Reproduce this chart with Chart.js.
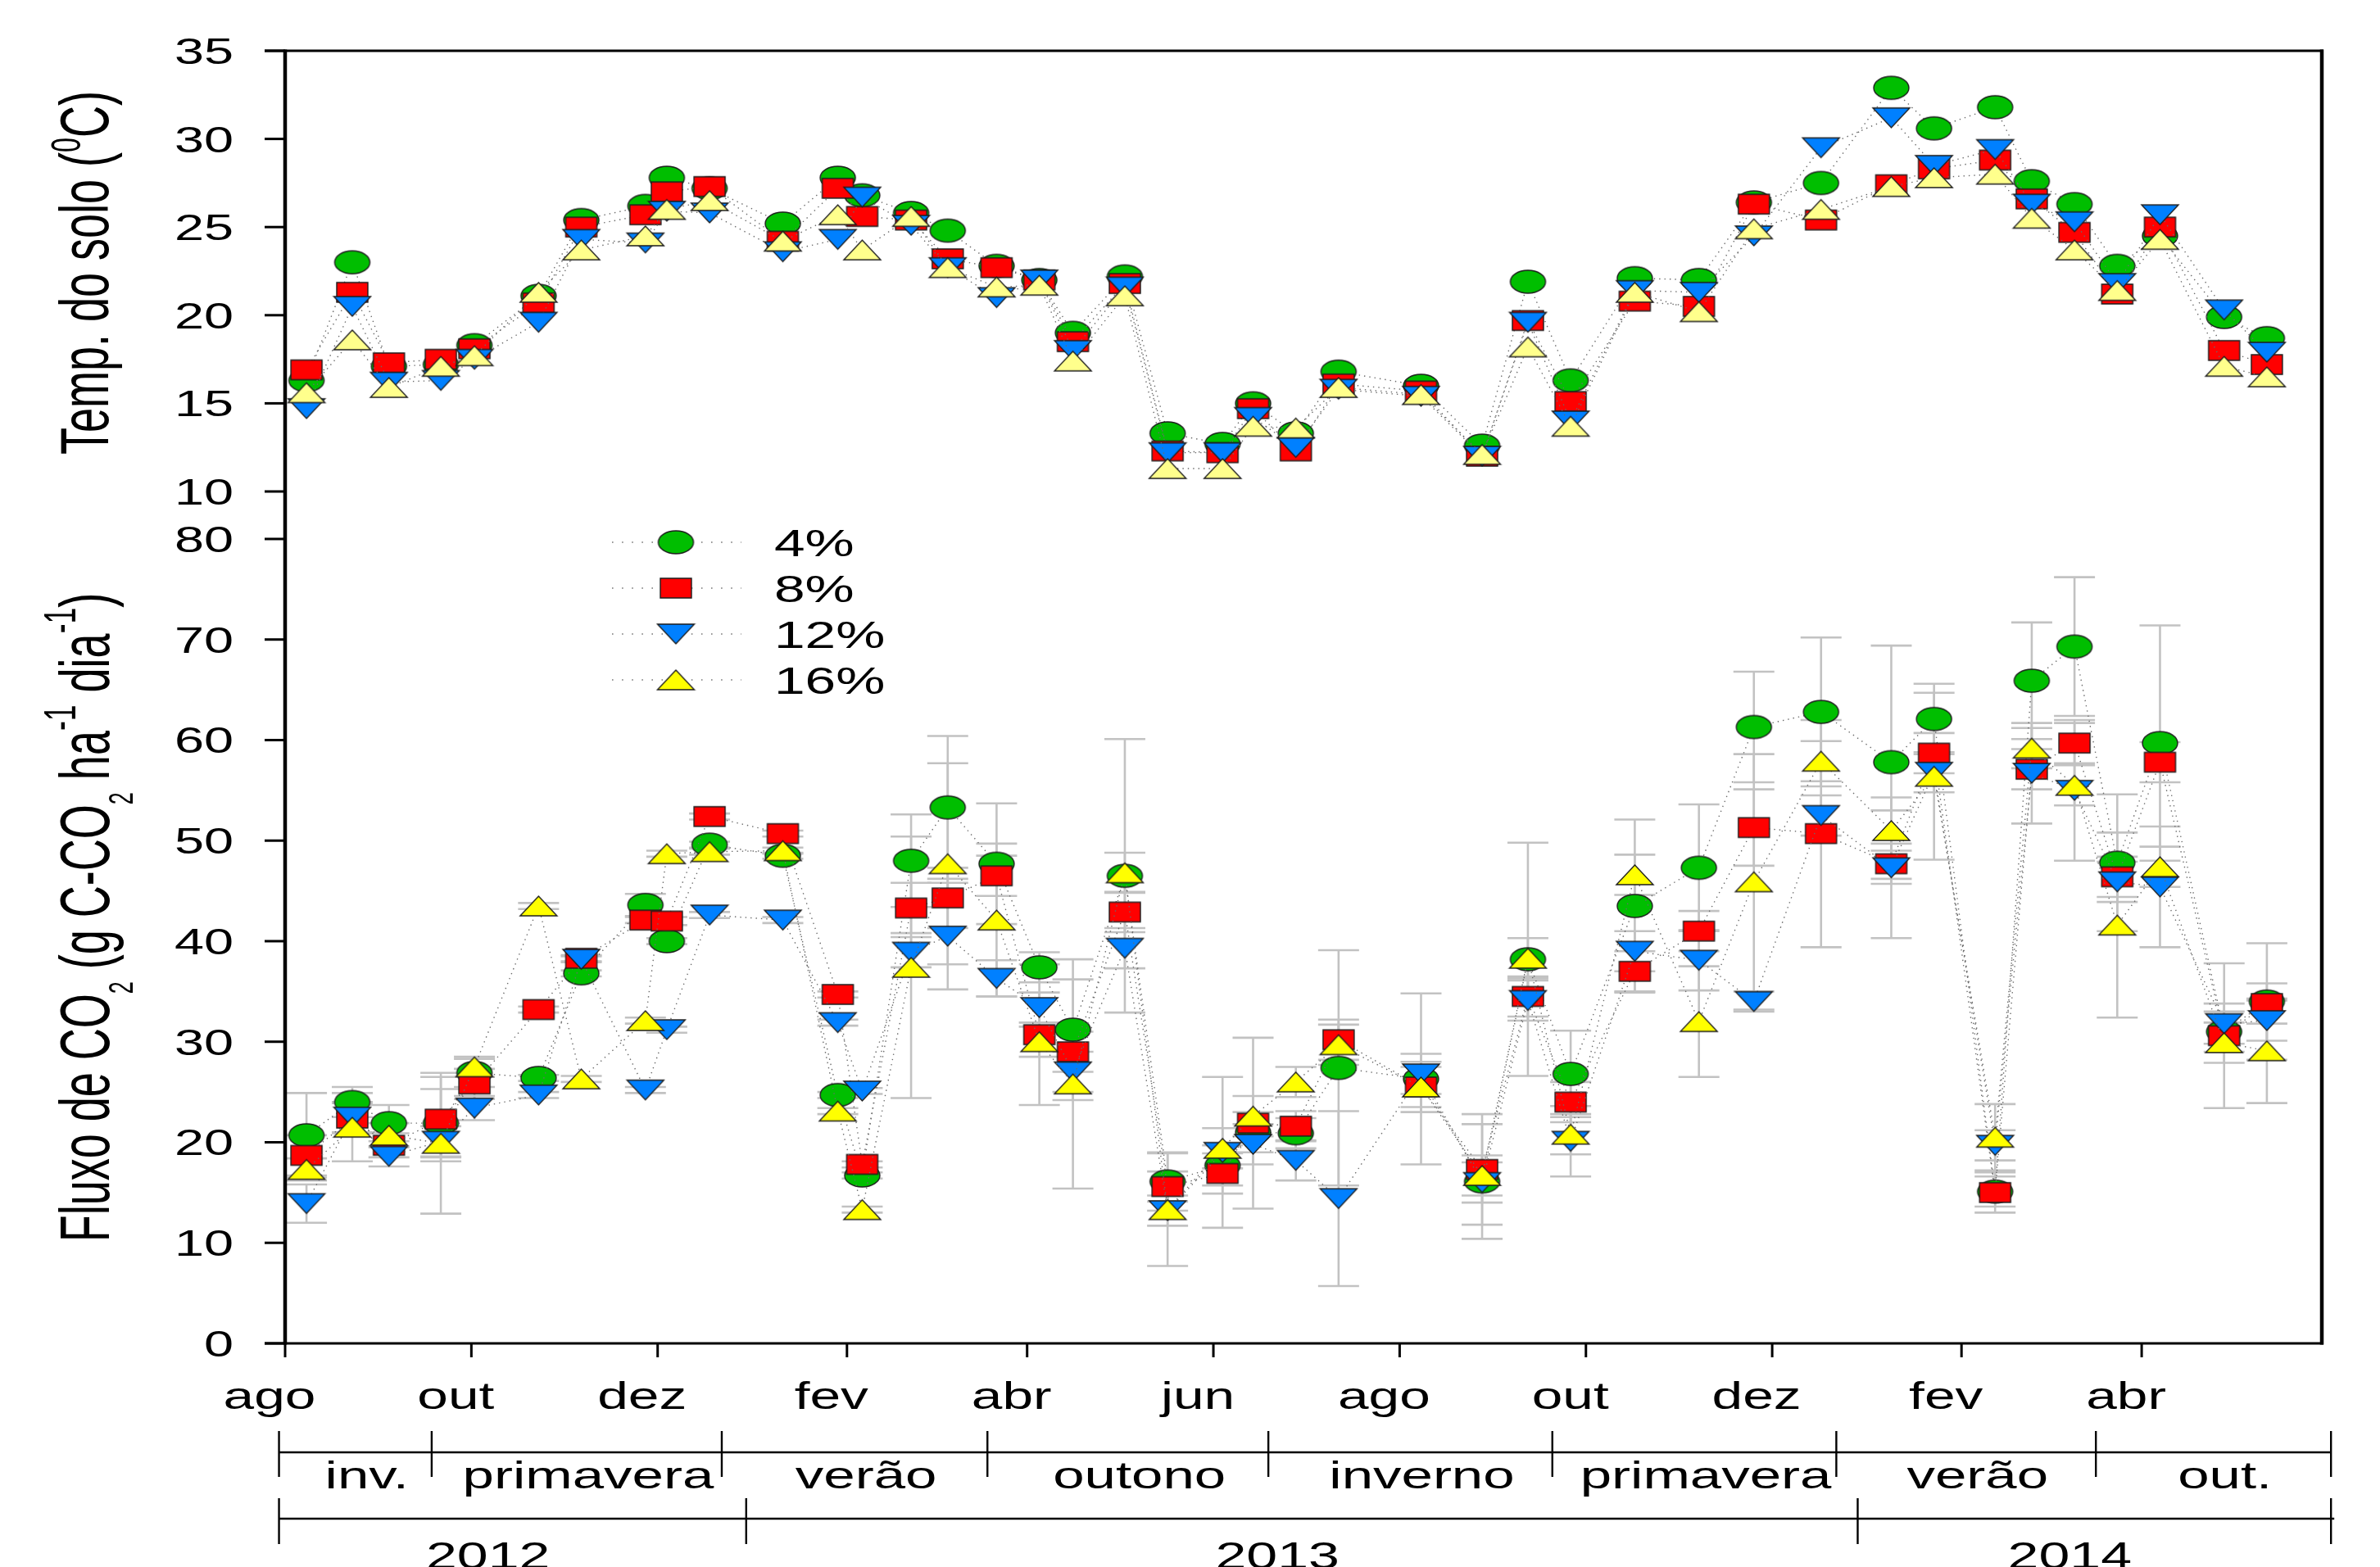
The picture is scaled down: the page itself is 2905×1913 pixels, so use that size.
<!DOCTYPE html>
<html>
<head>
<meta charset="utf-8">
<script src="https://cdn.jsdelivr.net/npm/chart.js@4.4.1/dist/chart.umd.min.js"></script>
<style>
  html, body { margin: 0; padding: 0; background: #fff; }
  #wrap { width: 2905px; height: 1913px; position: relative; }
</style>
</head>
<body>
<div id="wrap"><canvas id="c" width="2905" height="1913"></canvas></div>
<script>
// ---- sampling dates ----
const sampleDates = [
  '2012-08-08','2012-08-23','2012-09-04','2012-09-21','2012-10-02','2012-10-23','2012-11-06',
  '2012-11-27','2012-12-04','2012-12-18','2013-01-11','2013-01-29','2013-02-06','2013-02-22',
  '2013-03-06','2013-03-22','2013-04-05','2013-04-16','2013-05-03','2013-05-17','2013-06-04',
  '2013-06-14','2013-06-28','2013-07-12','2013-08-08','2013-08-28','2013-09-12','2013-09-26',
  '2013-10-17','2013-11-07','2013-11-25','2013-12-17','2014-01-09','2014-01-23','2014-02-12',
  '2014-02-24','2014-03-10','2014-03-24','2014-04-07','2014-04-28','2014-05-12'
];
const seriesLabels = ['4%', '8%', '12%', '16%'];

// ---- soil temperature (°C) ----
const soilTemp4  = [16.3,23.0,17.1,17.2,18.3,21.1,25.4,26.2,27.8,27.2,25.2,27.8,26.8,25.8,24.8,22.8,22.0,19.0,22.2,13.3,12.7,15.0,13.3,16.8,16.0,12.6,21.9,16.3,22.1,22.0,26.4,27.5,32.9,30.6,31.8,27.6,26.3,22.8,24.5,19.9,18.7];
const soilTemp8  = [16.9,21.3,17.3,17.5,18.1,20.7,25.0,25.7,27.0,27.3,24.2,27.2,25.6,25.4,23.2,22.7,22.0,18.5,21.8,12.3,12.2,14.7,12.3,16.1,15.7,12.0,19.7,15.1,20.8,20.5,26.3,25.4,27.4,28.3,28.8,26.6,24.7,21.2,25.0,18.0,17.2];
const soilTemp12 = [14.7,20.5,16.2,16.3,17.5,19.6,24.3,24.1,25.9,25.8,23.6,24.3,26.7,25.1,22.7,21.0,22.0,18.0,21.6,12.2,12.2,14.2,12.5,15.8,15.4,12.0,19.6,14.0,21.4,21.3,24.5,29.5,31.2,28.5,29.4,26.3,25.3,21.8,25.7,20.3,17.9];
const soilTemp16 = [15.6,18.6,15.9,17.1,17.7,21.3,23.7,24.5,26.0,26.5,24.2,25.7,23.7,25.6,22.7,21.6,21.7,17.4,21.1,11.3,11.3,13.7,13.6,15.9,15.5,12.1,18.2,13.7,21.3,20.2,24.9,26.0,27.3,27.8,28.0,25.5,23.7,21.4,24.3,17.1,16.5];

// ---- CO2 flux (g C-CO2 ha-1 dia-1) ----
const co2Flux4  = [20.7,24.0,21.9,21.9,26.9,26.4,36.8,43.6,40.0,49.6,48.5,24.7,16.7,48.0,53.3,47.7,37.4,31.2,46.5,16.1,17.7,21.0,20.9,27.4,26.3,16.1,38.2,26.8,43.5,47.3,61.3,62.8,57.8,62.1,15.1,65.9,69.3,47.8,59.7,31.0,34.0];
const co2Flux8  = [18.7,22.4,19.7,22.3,25.8,33.2,38.3,42.1,42.0,52.4,50.7,34.7,17.8,43.3,44.3,46.5,30.7,29.0,42.9,15.6,16.9,21.9,21.6,30.2,25.5,17.3,34.5,24.0,37.0,41.0,51.3,50.7,47.7,58.7,15.0,57.1,59.7,46.4,57.8,30.6,33.8];
const co2Flux12 = [13.9,22.5,18.6,20.1,23.4,24.7,38.2,25.2,31.2,42.6,42.1,31.9,25.1,38.9,40.5,36.3,33.4,27.0,39.3,13.2,19.0,19.8,18.2,14.4,26.8,16.0,34.1,20.1,39.0,38.1,34.0,52.5,47.3,56.8,19.7,56.7,55.0,45.9,45.4,31.8,32.1];
const co2Flux16 = [17.3,21.5,20.7,19.9,27.5,43.5,26.3,32.1,48.7,48.9,49.0,23.1,13.3,37.4,47.7,42.1,30.0,25.8,46.8,13.3,19.4,22.6,26.0,29.7,25.5,16.7,38.3,20.8,46.6,32.0,45.9,57.9,51.0,56.4,20.5,59.2,55.5,41.6,47.4,29.9,29.1];

// ---- CO2 flux standard errors ----
const co2Err4  = [4.2,1.5,1.8,3.4,1.4,0.3,0.3,1.1,0.3,0.3,0.3,0.3,0.3,4.6,7.1,6.0,1.5,7.0,13.6,2.9,2.0,2.0,1.5,11.7,8.5,5.7,11.6,4.3,8.6,6.3,5.5,7.4,11.6,3.5,1.5,5.8,6.9,6.8,11.7,2.0,5.8];
const co2Err8  = [2.0,1.5,1.2,4.2,1.5,0.3,0.3,0.3,0.4,0.3,0.3,0.3,0.3,2.5,3.0,2.0,7.0,2.0,2.0,1.5,2.0,8.5,1.5,2.0,2.5,5.5,2.0,2.0,2.0,2.0,3.8,11.3,2.0,2.0,2.0,2.0,2.0,2.0,2.0,7.2,2.0];
const co2Err12 = [1.9,1.5,1.0,1.5,1.2,0.3,0.3,0.3,0.3,0.3,0.3,0.3,0.3,1.5,5.3,1.8,1.5,2.0,2.0,1.5,7.5,2.0,2.0,8.7,2.0,2.0,2.0,3.5,2.0,3.0,1.0,2.0,7.0,2.0,1.5,5.0,7.0,2.0,6.0,2.0,2.0];
const co2Err16 = [1.1,3.4,1.2,7.0,1.0,0.3,0.3,0.3,0.3,0.3,0.3,0.3,0.3,13.0,10.0,7.6,1.5,10.4,2.0,5.6,2.0,2.0,1.5,2.0,2.0,2.0,2.0,2.0,2.0,5.5,12.7,2.0,2.0,8.3,3.3,2.0,2.0,9.2,2.0,2.0,5.2];

// ---- axes ----
const axisStart = '2012-08-01';
const axisEnd = '2014-05-30';
const monthTicks = ['2012-08-01','2012-10-01','2012-12-01','2013-02-01','2013-04-01','2013-06-01',
                    '2013-08-01','2013-10-01','2013-12-01','2014-02-01','2014-04-01'];
const monthTickLabels = ['ago','out','dez','fev','abr','jun','ago','out','dez','fev','abr'];
const tempTicks = [10, 15, 20, 25, 30, 35];
const fluxTicks = [0, 10, 20, 30, 40, 50, 60, 70, 80];

// ---- season and year bands under the time axis ----
const seasonBounds = ['2012-07-30','2012-09-18','2012-12-22','2013-03-19','2013-06-19',
                      '2013-09-20','2013-12-22','2014-03-17','2014-06-02'];
const seasonLabels = ['inv.','primavera','verão','outono','inverno','primavera','verão','out.'];
const yearBounds = ['2012-07-30','2012-12-30','2013-12-29','2014-06-02'];
const yearLabels = ['2012','2013','2014'];

// ------------------------------------------------------------------
const FONT = '"Liberation Sans", Arial, Helvetica, sans-serif';
const DAY0 = Date.UTC(2012, 7, 1);
function toDay(s) {
  const [y, m, d] = s.split('-').map(Number);
  return (Date.UTC(y, m - 1, d) - DAY0) / 864e5;
}
const sampleDays = sampleDates.map(toDay);

function makeMarker(shape, fill, w, h) {
  const pad = 2;
  const c = document.createElement('canvas');
  c.width = w + pad * 2; c.height = h + pad * 2;
  const g = c.getContext('2d');
  const cx = c.width / 2, cy = c.height / 2;
  g.fillStyle = fill; g.strokeStyle = '#1c1c1c'; g.lineWidth = 1.4; g.lineJoin = 'miter';
  g.beginPath();
  if (shape === 'ellipse') g.ellipse(cx, cy, w / 2, h / 2, 0, 0, Math.PI * 2);
  else if (shape === 'rect') g.rect(cx - w / 2, cy - h / 2, w, h);
  else if (shape === 'down') { g.moveTo(cx - w / 2, cy - h / 2); g.lineTo(cx + w / 2, cy - h / 2); g.lineTo(cx, cy + h / 2); g.closePath(); }
  else { g.moveTo(cx - w / 2, cy + h / 2); g.lineTo(cx + w / 2, cy + h / 2); g.lineTo(cx, cy - h / 2); g.closePath(); }
  g.fill(); g.stroke();
  return c;
}

const fluxMarkers = [
  makeMarker('ellipse', '#00BE00', 43, 28),
  makeMarker('rect', '#FF0000', 38, 24),
  makeMarker('down', '#0080FF', 45, 24),
  makeMarker('up', '#FFFF00', 45, 24)
];
const tempMarkers = [
  fluxMarkers[0], fluxMarkers[1], fluxMarkers[2],
  makeMarker('up', '#FFFF8C', 45, 24)
];

const tempSeries = [soilTemp4, soilTemp8, soilTemp12, soilTemp16];
const fluxSeries = [co2Flux4, co2Flux8, co2Flux12, co2Flux16];
const fluxErrors = [co2Err4, co2Err8, co2Err12, co2Err16];

function pts(values) { return values.map((v, i) => ({ x: sampleDays[i], y: v })); }

function lineStyle(order) {
  return {
    showLine: true, borderColor: '#6a6a6a', borderWidth: 1.4, borderDash: [1.4, 5],
    pointRadius: 12, pointHoverRadius: 12, order: order, fill: false, tension: 0
  };
}

const datasets = [];
seriesLabels.forEach((lab, k) => {
  datasets.push(Object.assign({ label: lab, yAxisID: 'yT', data: pts(tempSeries[k]), pointStyle: tempMarkers[k] }, lineStyle(4 - k)));
});
seriesLabels.forEach((lab, k) => {
  datasets.push(Object.assign({ label: lab, yAxisID: 'yF', data: pts(fluxSeries[k]), pointStyle: fluxMarkers[k] }, lineStyle(4 - k)));
});

function stretchedText(ctx, text, x, y, size, sx, align) {
  ctx.save();
  ctx.font = size + 'px ' + FONT;
  ctx.translate(x, y);
  ctx.scale(sx, 1);
  ctx.textAlign = align;
  ctx.textBaseline = 'alphabetic';
  ctx.fillStyle = '#000';
  ctx.fillText(text, 0, 0);
  ctx.restore();
}

// vertical title made of runs (normal / sub / superscript), read bottom to top
function rotatedTitle(ctx, runs, baseX, centerY, size, sy) {
  ctx.save();
  ctx.translate(baseX, centerY);
  ctx.rotate(-Math.PI / 2);
  ctx.scale(1, sy);
  ctx.fillStyle = '#000';
  ctx.textBaseline = 'alphabetic';
  let total = 0;
  runs.forEach(r => { ctx.font = (size * (r.s || 1)) + 'px ' + FONT; r.w = ctx.measureText(r.t).width; total += r.w; });
  let x = -total / 2;
  runs.forEach(r => { ctx.font = (size * (r.s || 1)) + 'px ' + FONT; ctx.fillText(r.t, x, r.dy || 0); x += r.w; });
  ctx.restore();
}

function seg(ctx, x1, y1, x2, y2) { ctx.beginPath(); ctx.moveTo(x1, y1); ctx.lineTo(x2, y2); ctx.stroke(); }

const errorBars = {
  id: 'errorBars',
  beforeDatasetsDraw(chart) {
    const { ctx } = chart;
    const x = chart.scales.x, y = chart.scales.yF;
    ctx.save();
    ctx.strokeStyle = '#c2c2c2';
    ctx.lineWidth = 2.6;
    fluxSeries.forEach((vals, k) => {
      vals.forEach((v, i) => {
        const e = fluxErrors[k][i];
        const px = x.getPixelForValue(sampleDays[i]);
        const pt = y.getPixelForValue(v + e), pb = y.getPixelForValue(v - e);
        seg(ctx, px, pt, px, pb);
        seg(ctx, px - 25, pt, px + 25, pt);
        seg(ctx, px - 25, pb, px + 25, pb);
      });
    });
    ctx.restore();
  }
};

const frame = {
  id: 'frame',
  afterDraw(chart) {
    const { ctx, chartArea: a } = chart;
    const x = chart.scales.x, yT = chart.scales.yT, yF = chart.scales.yF;
    ctx.save();
    ctx.strokeStyle = '#000';
    ctx.lineCap = 'butt';

    // plot borders
    ctx.lineWidth = 4.5;
    seg(ctx, a.left, a.top - 1.5, a.left, a.bottom + 1.5);
    seg(ctx, a.right, a.top - 1.5, a.right, a.bottom + 1.5);
    ctx.lineWidth = 3.2;
    seg(ctx, a.left - 25, a.top, a.right + 2, a.top);
    seg(ctx, a.left - 25, a.bottom, a.right + 2, a.bottom);

    // y ticks and labels
    ctx.lineWidth = 3;
    tempTicks.forEach(v => {
      const py = yT.getPixelForValue(v);
      seg(ctx, a.left - 25, py, a.left, py);
      stretchedText(ctx, String(v), a.left - 63, py + 16, 45, 1.44, 'right');
    });
    fluxTicks.forEach(v => {
      const py = yF.getPixelForValue(v);
      seg(ctx, a.left - 25, py, a.left, py);
      stretchedText(ctx, String(v), a.left - 63, py + 16, 45, 1.44, 'right');
    });

    // month ticks
    monthTicks.forEach((d, i) => {
      const px = x.getPixelForValue(toDay(d));
      seg(ctx, px, a.bottom, px, a.bottom + 17);
      stretchedText(ctx, monthTickLabels[i], px - 19, a.bottom + 80, 46, 1.47, 'center');
    });

    // season band
    ctx.lineWidth = 2.4;
    const sY = a.bottom + 133;
    const sp = seasonBounds.map(d => x.getPixelForValue(toDay(d)));
    seg(ctx, sp[0], sY, sp[sp.length - 1], sY);
    sp.forEach(p => seg(ctx, p, sY - 26, p, sY + 30));
    seasonLabels.forEach((t, i) => stretchedText(ctx, t, (sp[i] + sp[i + 1]) / 2 + 14, a.bottom + 177, 46, 1.5, 'center'));

    // year band
    const yY = a.bottom + 214;
    const yp = yearBounds.map(d => x.getPixelForValue(toDay(d)));
    seg(ctx, yp[0], yY, yp[yp.length - 1] + 4, yY);
    yp.forEach(p => seg(ctx, p, yY - 25, p, yY + 31));
    yearLabels.forEach((t, i) => stretchedText(ctx, t, (yp[i] + yp[i + 1]) / 2 - 30, a.bottom + 275, 46, 1.48, 'center'));

    // axis titles
    rotatedTitle(ctx, [
      { t: 'Temp. do solo (' }, { t: '0', s: 0.6, dy: -22 }, { t: 'C)' }
    ], 132, (yT.getPixelForValue(35) + yT.getPixelForValue(10)) / 2 + 2, 54, 1.55);
    rotatedTitle(ctx, [
      { t: 'Fluxo de CO' }, { t: '2', s: 0.5, dy: 18.5 }, { t: ' (g C-CO' }, { t: '2', s: 0.5, dy: 18.5 },
      { t: ' ha' }, { t: '-1', s: 0.66, dy: -26 }, { t: ' dia' }, { t: '-1', s: 0.66, dy: -26 }, { t: ')' }
    ], 133, (a.bottom + yT.getPixelForValue(10)) / 2, 54, 1.57);

    // legend
    const lgX = 825, rows = [662, 718, 774, 830];
    seriesLabels.forEach((lab, k) => {
      const ry = rows[k];
      ctx.save();
      ctx.strokeStyle = '#777'; ctx.lineWidth = 1.6; ctx.setLineDash([1.6, 10.5]);
      seg(ctx, lgX - 78, ry, lgX + 80, ry);
      ctx.restore();
      const m = fluxMarkers[k];
      ctx.drawImage(m, lgX - m.width / 2, ry - m.height / 2);
      stretchedText(ctx, lab, 945, ry + 17, 46, 1.47, 'left');
    });
    ctx.restore();
  }
};

new Chart(document.getElementById('c').getContext('2d'), {
  type: 'scatter',
  data: { datasets: datasets },
  options: {
    responsive: false,
    animation: false,
    events: [],
    layout: { padding: { left: 348, right: 71, top: 62, bottom: 273 } },
    plugins: { legend: { display: false }, tooltip: { enabled: false } },
    scales: {
      x: { type: 'linear', display: false, min: toDay(axisStart), max: toDay(axisEnd) },
      yT: { type: 'linear', display: false, min: -38.327, max: 35 },
      yF: { type: 'linear', display: false, min: 0, max: 128.55 }
    }
  },
  plugins: [errorBars, frame]
});
</script>
</body>
</html>
